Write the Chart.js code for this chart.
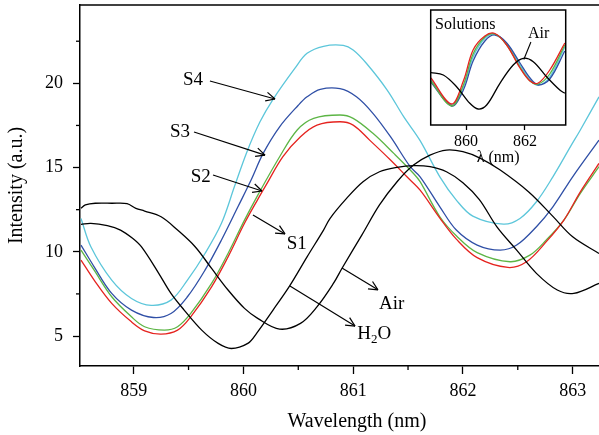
<!DOCTYPE html>
<html>
<head>
<meta charset="utf-8">
<script src="https://cdn.jsdelivr.net/npm/chart.js@4.4.1/dist/chart.umd.min.js"></script>
<style>
  html, body { margin: 0; padding: 0; background: #fff; overflow: hidden; }
  #wrap { position: relative; width: 599px; height: 435px; overflow: hidden; }
  #mainBox { position: absolute; left: 0; top: 0; width: 634px; height: 435px; }
  #insetBox { position: absolute; left: 410px; top: 0; width: 175px; height: 170px; }
</style>
</head>
<body>
<div id="wrap">
  <div id="mainBox"><canvas id="main" width="634" height="435"></canvas></div>
  <div id="insetBox"><canvas id="inset" width="175" height="170"></canvas></div>
</div>
<script>
// ticks
const xTicks = [859, 860, 861, 862, 863];
const xMinor = [859.5, 860.5, 861.5, 862.5];
const yTicks = [5, 10, 15, 20];
const yMinor = [7.5, 12.5, 17.5, 22.5];

// S4 (cyan)
const s4X = [858.52, 858.61, 858.80, 858.98, 859.16, 859.34, 859.49, 859.65, 859.80, 859.92, 860.03, 860.15, 860.27, 860.47, 860.58, 860.73, 860.91, 861.00, 861.12, 861.31, 861.46, 861.61, 861.79, 861.94, 862.09, 862.37, 862.52, 862.67, 862.82, 862.98, 863.07, 863.24];
const s4Y = [11.98, 10.30, 8.32, 7.23, 6.82, 7.13, 8.32, 9.90, 11.69, 13.9, 15.9, 17.7, 19.05, 20.9, 21.78, 22.2, 22.25, 21.98, 21.19, 19.6, 18.02, 16.6, 14.45, 13.07, 12.12, 11.64, 11.98, 12.97, 14.45, 16.24, 17.23, 19.2];

// S3 (blue)
const s3X = [858.52, 858.64, 858.80, 858.98, 859.18, 859.34, 859.49, 859.65, 859.80, 859.95, 860.07, 860.18, 860.33, 860.50, 860.58, 860.70, 860.88, 861.03, 861.18, 861.34, 861.52, 861.61, 861.79, 861.94, 862.13, 862.34, 862.49, 862.67, 862.82, 863.00, 863.24];
const s3Y = [10.40, 9.11, 7.53, 6.54, 6.10, 6.34, 7.33, 8.91, 10.70, 12.67, 14.26, 15.84, 17.42, 18.7, 19.2, 19.64, 19.68, 19.2, 18.22, 16.83, 15.05, 14.45, 12.67, 11.29, 10.40, 10.10, 10.40, 11.49, 12.67, 14.45, 16.63];

// S2 (green)
const s2X = [858.52, 858.64, 858.80, 858.98, 859.10, 859.28, 859.40, 859.52, 859.71, 859.86, 860.01, 860.13, 860.33, 860.49, 860.64, 860.88, 861.00, 861.18, 861.37, 861.55, 861.61, 861.79, 861.94, 862.13, 862.43, 862.61, 862.76, 862.92, 863.07, 863.24];
const s2Y = [10.10, 8.91, 7.33, 6.14, 5.55, 5.35, 5.55, 6.34, 8.12, 9.90, 11.88, 13.35, 15.64, 17.23, 17.92, 18.12, 17.92, 17.03, 15.84, 14.65, 14.16, 12.08, 10.95, 9.95, 9.41, 9.80, 10.70, 11.88, 13.47, 15.05];

// S1 (red)
const s1X = [858.52, 858.64, 858.80, 858.98, 859.10, 859.25, 859.40, 859.52, 859.71, 859.86, 860.01, 860.13, 860.21, 860.36, 860.52, 860.67, 860.88, 861.00, 861.15, 861.34, 861.49, 861.61, 861.79, 861.94, 862.13, 862.41, 862.58, 862.76, 862.92, 863.07, 863.24];
const s1Y = [9.51, 8.32, 6.94, 5.84, 5.31, 5.11, 5.35, 6.14, 7.92, 9.70, 11.69, 13.1, 14.0, 15.65, 16.83, 17.52, 17.72, 17.52, 16.63, 15.45, 14.45, 13.66, 12.0, 10.75, 9.65, 9.07, 9.41, 10.60, 11.88, 13.56, 15.25];

// Air (black)
const airX = [858.52, 858.56, 858.65, 858.80, 858.94, 859.02, 859.10, 859.25, 859.40, 859.56, 859.71, 859.86, 860.01, 860.13, 860.33, 860.52, 860.67, 860.82, 860.90, 861.08, 861.24, 861.40, 861.55, 861.70, 861.85, 862.00, 862.16, 862.34, 862.60, 862.82, 863.00, 863.24];
const airY = [12.58, 12.78, 12.88, 12.88, 12.86, 12.58, 12.42, 12.08, 11.29, 10.30, 9.01, 7.73, 6.64, 6.05, 5.41, 5.75, 6.73, 8.12, 9.04, 11.0, 12.78, 14.16, 15.15, 15.74, 16.04, 15.94, 15.55, 14.85, 13.55, 12.1, 10.89, 9.90];

// H2O (black)
const h2oX = [858.52, 858.61, 858.76, 858.88, 858.99, 859.07, 859.22, 859.34, 859.46, 859.62, 859.77, 859.89, 860.04, 860.12, 860.27, 860.42, 860.58, 860.73, 860.79, 860.94, 861.09, 861.24, 861.40, 861.55, 861.70, 861.85, 862.00, 862.15, 862.31, 862.49, 862.67, 862.86, 863.01, 863.24];
const h2oY = [11.63, 11.69, 11.55, 11.29, 10.8, 10.3, 8.81, 7.53, 6.54, 5.35, 4.56, 4.26, 4.56, 5.16, 6.54, 7.96, 9.70, 11.29, 11.99, 13.17, 14.16, 14.75, 15.01, 15.11, 15.05, 14.75, 14.1, 13.1, 11.48, 10.10, 8.72, 7.73, 7.53, 8.12];

// inset (arbitrary intensity units)
const insetTicks = [860, 862];
const insetSolX = [858.81, 859.51, 859.91, 860.24, 860.64, 860.98, 861.38, 861.83, 862.17, 862.45, 862.84, 863.35];
const insetRed = [47, 21, 44, 75, 89, 91.5, 80, 57, 44, 42, 55, 82];
const insetGreen = [44, 19, 40, 71, 88, 91, 80, 58, 44, 41, 51, 80];
const insetBlue = [43, 19, 35, 64, 84, 90, 82, 62, 47, 40, 46, 74];
const insetCyan = [45, 20, 38, 68, 86.7, 90.7, 81.7, 60, 45, 40, 48, 78];
const insetAirX = [858.81, 859.23, 859.68, 860.13, 860.41, 860.70, 861.15, 861.60, 861.94, 862.28, 862.73, 863.18, 863.35];
const insetAirY = [52.3, 50, 38.3, 21.7, 16, 20, 41.7, 60, 66.7, 63.3, 48.3, 35, 31.7];

const FONT = 'Liberation Serif';
const CYAN = '#5cc6da', BLUE = '#2f4fa6', GREEN = '#5cb545', RED = '#e5231f';

function pts(xs, ys) {
    return xs.map((x, i) => ({ x: x, y: ys[i] }));
}
function series(label, xs, ys, color) {
    return { label: label, data: pts(xs, ys), borderColor: color, borderWidth: 1.3,
             pointRadius: 0, tension: 0.35, fill: false };
}

// labels with arrows, in data coordinates
const notes = [
    { text: 'S4', tx: 859.449, ty: 19.90, x0: 859.695, y0: 20.14, x1: 860.288, y1: 19.07 },
    { text: 'S3', tx: 859.331, ty: 16.83, x0: 859.550, y0: 17.11, x1: 860.197, y1: 15.74 },
    { text: 'S2', tx: 859.520, ty: 14.16, x0: 859.723, y0: 14.56, x1: 860.169, y1: 13.61 },
    { text: 'S1', tx: 860.394, ty: 10.15, x0: 860.087, y0: 12.19, x1: 860.379, y1: 11.06 },
    { text: 'Air', tx: 861.235, ty: 6.58, x0: 860.898, y0: 9.04, x1: 861.226, y1: 7.74 },
    { text: 'H2O', tx: 861.038, ty: 4.80, x0: 860.424, y0: 7.97, x1: 861.017, y1: 5.59 }
];

function line(ctx, a, b, c, d) {
    ctx.beginPath(); ctx.moveTo(a, b); ctx.lineTo(c, d); ctx.stroke();
}

const frame = {
    id: 'frame',
    afterDraw(chart) {
        const { ctx, chartArea, scales } = chart;
        ctx.save();
        ctx.strokeStyle = '#000';
        ctx.lineWidth = 1.3;
        xMinor.forEach(v => {
            const p = scales.x.getPixelForValue(v);
            line(ctx, p, chartArea.bottom, p, chartArea.bottom + 4);
        });
        yMinor.forEach(v => {
            const p = scales.y.getPixelForValue(v);
            line(ctx, chartArea.left - 4, p, chartArea.left, p);
        });
        ctx.lineWidth = 1.5;
        line(ctx, chartArea.left, chartArea.top, chartArea.right, chartArea.top);
        ctx.restore();
    }
};

const arrows = {
    id: 'arrows',
    afterDatasetsDraw(chart) {
        const { ctx, scales } = chart;
        ctx.save();
        ctx.strokeStyle = '#000';
        ctx.fillStyle = '#000';
        ctx.lineWidth = 1.2;
        notes.forEach(n => {
            const ax = scales.x.getPixelForValue(n.x0), ay = scales.y.getPixelForValue(n.y0);
            const bx = scales.x.getPixelForValue(n.x1), by = scales.y.getPixelForValue(n.y1);
            line(ctx, ax, ay, bx, by);
            const ang = Math.atan2(by - ay, bx - ax);
            [0.45, -0.45].forEach(d => {
                line(ctx, bx, by, bx - 10 * Math.cos(ang + d), by - 10 * Math.sin(ang + d));
            });
            const tx = scales.x.getPixelForValue(n.tx), ty = scales.y.getPixelForValue(n.ty);
            ctx.textAlign = 'left';
            ctx.textBaseline = 'alphabetic';
            ctx.font = '19px "' + FONT + '"';
            if (n.text === 'H2O') {
                ctx.fillText('H', tx, ty);
                let w = ctx.measureText('H').width;
                ctx.font = '13px "' + FONT + '"';
                ctx.fillText('2', tx + w, ty + 4);
                w += ctx.measureText('2').width;
                ctx.font = '19px "' + FONT + '"';
                ctx.fillText('O', tx + w, ty);
            } else {
                ctx.fillText(n.text, tx, ty);
            }
        });
        ctx.restore();
    }
};

new Chart(document.getElementById('main'), {
    type: 'line',
    data: {
        datasets: [
            series('Air', airX, airY, '#000'),
            series('H2O', h2oX, h2oY, '#000'),
            series('S1', s1X, s1Y, RED),
            series('S2', s2X, s2Y, GREEN),
            series('S3', s3X, s3Y, BLUE),
            series('S4', s4X, s4Y, CYAN)
        ]
    },
    options: {
        responsive: false,
        animation: false,
        layout: { padding: { top: 5, left: 0, right: 0, bottom: 0 } },
        plugins: { legend: { display: false }, tooltip: { enabled: false } },
        scales: {
            x: {
                type: 'linear',
                min: 858.511,
                max: 863.559,
                afterBuildTicks: s => { s.ticks = xTicks.map(v => ({ value: v })); },
                afterFit: s => { s.height = 69; s.paddingLeft = 0; s.paddingRight = 0; },
                grid: { drawOnChartArea: false, tickLength: 8, tickColor: '#000', tickWidth: 1.3 },
                border: { color: '#000', width: 1.5 },
                ticks: { color: '#000', font: { family: FONT, size: 18 }, padding: 6, maxRotation: 0,
                         callback: v => String(v) },
                title: { display: true, text: 'Wavelength (nm)', color: '#000',
                         font: { family: FONT, size: 20 }, padding: { top: 0, bottom: 1 } }
            },
            y: {
                min: 3.22,
                max: 24.65,
                afterBuildTicks: s => { s.ticks = yTicks.map(v => ({ value: v })); },
                afterFit: s => { s.width = 80; s.paddingTop = 0; s.paddingBottom = 0; },
                grid: { drawOnChartArea: false, tickLength: 7, tickColor: '#000', tickWidth: 1.3 },
                border: { color: '#000', width: 1.5 },
                ticks: { color: '#000', font: { family: FONT, size: 18 }, padding: 10,
                         callback: v => String(v) },
                title: { display: true, text: 'Intensity (a.u.)', color: '#000',
                         font: { family: FONT, size: 20 }, padding: { top: 5, bottom: 0 } }
            }
        }
    },
    plugins: [frame, arrows]
});

// inset
const insetBox = {
    id: 'insetBox',
    beforeDraw(chart) {
        const { ctx, chartArea } = chart;
        ctx.save();
        ctx.fillStyle = '#fff';
        ctx.fillRect(chartArea.left, chartArea.top, chartArea.width, chartArea.height);
        ctx.restore();
    },
    afterDraw(chart) {
        const { ctx, chartArea, scales } = chart;
        ctx.save();
        ctx.strokeStyle = '#000';
        ctx.lineWidth = 1.5;
        ctx.strokeRect(chartArea.left, chartArea.top, chartArea.width, chartArea.height);
        ctx.fillStyle = '#000';
        ctx.font = '16px "' + FONT + '"';
        ctx.textBaseline = 'middle';
        ctx.textAlign = 'left';
        ctx.fillText('Solutions', scales.x.getPixelForValue(858.95), scales.y.getPixelForValue(100));
        ctx.textAlign = 'center';
        ctx.fillText('Air', scales.x.getPixelForValue(862.46), scales.y.getPixelForValue(91.5));
        ctx.lineWidth = 1.1;
        line(ctx, scales.x.getPixelForValue(862.20), scales.y.getPixelForValue(83),
                  scales.x.getPixelForValue(861.96), scales.y.getPixelForValue(65.5));
        ctx.restore();
    }
};

new Chart(document.getElementById('inset'), {
    type: 'line',
    data: {
        datasets: [
            series('Air', insetAirX, insetAirY, '#000'),
            series('S1', insetSolX, insetRed, RED),
            series('S2', insetSolX, insetGreen, GREEN),
            series('S3', insetSolX, insetBlue, BLUE),
            series('S4', insetSolX, insetCyan, CYAN)
        ]
    },
    options: {
        responsive: false,
        animation: false,
        layout: { padding: { top: 10, left: 20.7, right: 19.3, bottom: 0 } },
        plugins: { legend: { display: false }, tooltip: { enabled: false } },
        scales: {
            x: {
                type: 'linear',
                min: 858.803,
                max: 863.38,
                afterBuildTicks: s => { s.ticks = insetTicks.map(v => ({ value: v })); },
                afterFit: s => { s.height = 45; s.paddingLeft = 0; s.paddingRight = 0; },
                grid: { drawOnChartArea: false, tickLength: 5, tickColor: '#000', tickWidth: 1.3 },
                border: { display: false },
                ticks: { color: '#000', font: { family: FONT, size: 16 }, padding: 2, maxRotation: 0,
                         callback: v => String(v) },
                title: { display: true, text: 'λ (nm)', color: '#000',
                         font: { family: FONT, size: 16 }, padding: { top: 0, bottom: 3 } }
            },
            y: { display: false, min: 0, max: 115 }
        }
    },
    plugins: [insetBox]
});
</script>
</body>
</html>
